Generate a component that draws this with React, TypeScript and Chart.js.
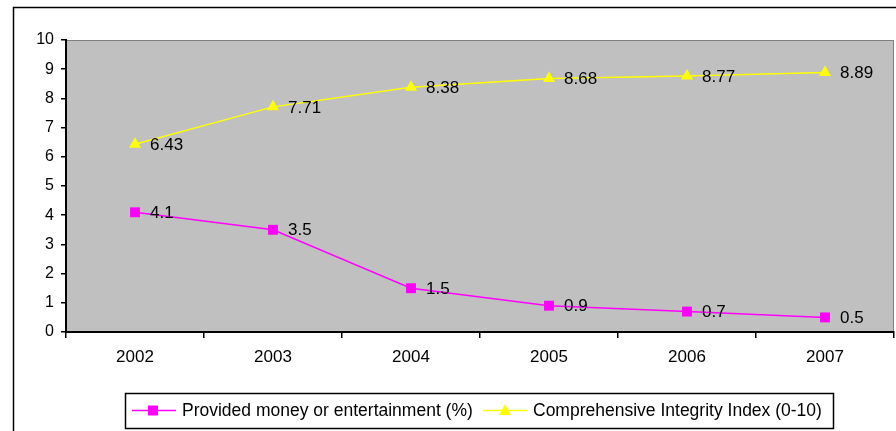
import React, { useEffect, useRef } from "react";
import { Chart, registerables } from "chart.js";

Chart.register(...registerables);

const categories = ["2002", "2003", "2004", "2005", "2006", "2007"];
const moneyValues = [4.1, 3.5, 1.5, 0.9, 0.7, 0.5];
const integrityValues = [6.43, 7.71, 8.38, 8.68, 8.77, 8.89];
const moneyLabel = "Provided money or entertainment (%)";
const integrityLabel = "Comprehensive Integrity Index (0-10)";
const yTicks = [0, 1, 2, 3, 4, 5, 6, 7, 8, 9, 10];

const FONT = "Arial, 'Liberation Sans', sans-serif";

const decorPlugin = {
  id: "decor",
  beforeDraw(chart: any) {
    const { ctx, chartArea } = chart;
    ctx.save();
    ctx.fillStyle = "#ffffff";
    ctx.fillRect(0, 0, chart.width, chart.height);
    ctx.strokeStyle = "#000000";
    ctx.lineWidth = 1.5;
    ctx.beginPath();
    ctx.moveTo(13.5, chart.height + 5);
    ctx.lineTo(13.5, 7.5);
    ctx.lineTo(chart.width + 5, 7.5);
    ctx.stroke();
    ctx.fillStyle = "#C0C0C0";
    ctx.fillRect(chartArea.left, chartArea.top, chartArea.right - chartArea.left, chartArea.bottom - chartArea.top);
    ctx.strokeStyle = "#808080";
    ctx.lineWidth = 1;
    ctx.strokeRect(chartArea.left + 0.5, chartArea.top + 0.5, chartArea.right - chartArea.left - 1, chartArea.bottom - chartArea.top);
    ctx.restore();
  },
  afterDatasetsDraw(chart: any) {
    const { ctx } = chart;
    ctx.save();
    ctx.font = `17px ${FONT}`;
    ctx.fillStyle = "#000000";
    ctx.textAlign = "left";
    ctx.textBaseline = "middle";
    chart.data.datasets.forEach((ds: any, i: number) => {
      const meta = chart.getDatasetMeta(i);
      meta.data.forEach((pt: any, j: number) => {
        ctx.fillText(String(ds.data[j]), pt.x + 15, pt.y + 1);
      });
    });
    ctx.restore();
  },
  afterDraw(chart: any) {
    const { ctx } = chart;
    ctx.save();
    ctx.strokeStyle = "#000000";
    ctx.lineWidth = 1.5;
    ctx.strokeRect(125.5, 393.5, 708, 35);
    const ly = 410.5;
    ctx.strokeStyle = "#FF00FF";
    ctx.lineWidth = 1.5;
    ctx.beginPath();
    ctx.moveTo(132, ly);
    ctx.lineTo(176, ly);
    ctx.stroke();
    ctx.fillStyle = "#FF00FF";
    ctx.fillRect(148, ly - 5, 10, 10);
    ctx.strokeStyle = "#FFFF00";
    ctx.beginPath();
    ctx.moveTo(483, ly);
    ctx.lineTo(527, ly);
    ctx.stroke();
    ctx.fillStyle = "#FFFF00";
    ctx.beginPath();
    ctx.moveTo(505, ly - 6.5);
    ctx.lineTo(511, ly + 4.5);
    ctx.lineTo(499, ly + 4.5);
    ctx.closePath();
    ctx.fill();
    ctx.font = `17.5px ${FONT}`;
    ctx.fillStyle = "#000000";
    ctx.textAlign = "left";
    ctx.textBaseline = "middle";
    ctx.fillText(moneyLabel, 182, ly + 1);
    ctx.fillText(integrityLabel, 533, ly + 1);
    ctx.restore();
  },
};

export default function App() {
  const canvasRef = useRef<HTMLCanvasElement>(null);

  useEffect(() => {
    if (!canvasRef.current) return;
    const chart = new Chart(canvasRef.current, {
      type: "line",
      data: {
        labels: categories,
        datasets: [
          {
            label: moneyLabel,
            data: moneyValues,
            borderColor: "#FF00FF",
            backgroundColor: "#FF00FF",
            borderWidth: 1.5,
            pointStyle: "rect",
            pointRadius: 7,
            pointBorderWidth: 0,
            tension: 0,
          },
          {
            label: integrityLabel,
            data: integrityValues,
            borderColor: "#FFFF00",
            backgroundColor: "#FFFF00",
            borderWidth: 1.5,
            pointStyle: "triangle",
            pointRadius: 7,
            pointBorderWidth: 0,
            tension: 0,
          },
        ],
      },
      options: {
        animation: false,
        responsive: false,
        devicePixelRatio: 1,
        layout: { autoPadding: false, padding: { left: 0, top: 40, right: 2, bottom: 0 } },
        plugins: {
          legend: { display: false },
          tooltip: { enabled: false },
        },
        scales: {
          x: {
            type: "category",
            offset: true,
            afterFit: (s: any) => {
              s.height = 99;
              s.paddingLeft = 0;
              s.paddingRight = 0;
            },
            grid: {
              offset: true,
              drawOnChartArea: false,
              drawTicks: true,
              tickLength: 6,
              color: "#000000",
              lineWidth: 1.5,
            },
            border: { color: "#000000", width: 2 },
            ticks: {
              color: "#000000",
              font: { family: FONT, size: 17 },
              padding: 9,
              maxRotation: 0,
            },
          },
          y: {
            min: 0,
            max: 10,
            afterFit: (s: any) => {
              s.width = 66;
              s.paddingTop = 0;
              s.paddingBottom = 0;
            },
            afterBuildTicks: (s: any) => {
              s.ticks = yTicks.map((v) => ({ value: v }));
            },
            grid: {
              drawOnChartArea: false,
              drawTicks: true,
              tickLength: 5,
              color: "#000000",
              lineWidth: 1.5,
            },
            border: { color: "#000000", width: 2 },
            ticks: {
              color: "#000000",
              font: { family: FONT, size: 16 },
              padding: 7,
            },
          },
        },
      },
      plugins: [decorPlugin],
    });
    return () => chart.destroy();
  }, []);

  return (
    <div style={{ position: "fixed", left: 0, top: 0, width: 896, height: 431 }}>
      <canvas ref={canvasRef} width={896} height={431} style={{ display: "block" }} />
    </div>
  );
}
